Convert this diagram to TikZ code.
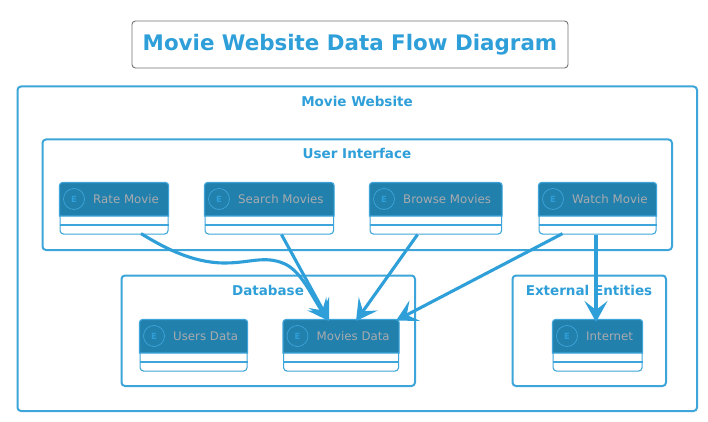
\documentclass[tikz,border=0pt]{standalone}
\usepackage{fontspec}
\setmainfont{DejaVu Sans}
\usetikzlibrary{arrows.meta,calc}
\definecolor{accent}{HTML}{2E9FD8}
\definecolor{boxline}{HTML}{3DA5D9}
\definecolor{headfill}{HTML}{2280AD}
\definecolor{graytext}{HTML}{A8ABAD}
\tikzset{
  x=1pt,y=-1pt,
  container/.style={draw=boxline,line width=2pt,rounded corners=3.5pt,fill=white},
  grouplabel/.style={text=accent,font=\bfseries\fontsize{13.5}{15}\selectfont,inner sep=0pt,anchor=center},
  entbox/.style={draw=boxline,line width=1.1pt,rounded corners=3.5pt,fill=white,inner sep=0pt,anchor=north west,minimum height=51pt},
  enthead/.style={fill=headfill,draw=boxline,line width=1.1pt},
  entlabel/.style={text=graytext,font=\fontsize{11.8}{14}\selectfont,inner sep=0pt,anchor=west},
  entmark/.style={circle,draw=boxline,line width=0.7pt,minimum size=21pt,inner sep=0pt,text=accent,font=\rmfamily\bfseries\fontsize{8.5}{10}\selectfont},
  flow/.style={draw=accent,line width=3.1pt,-{Stealth[length=21pt,width=23pt,inset=9pt]}},
}
% #1 name, #2 left, #3 width, #4 top, #5 label
\newcommand{\entitybox}[5]{%
  \node[entbox,minimum width=#3 pt] (#1) at (#2,#4) {};
  \draw[enthead] ($(#1.north west)+(0,33.5)$) -- ($(#1.north west)+(0,3)$)
    arc[start angle=180,end angle=90,x radius=3,y radius=-3] -- ($(#1.north east)+(-3,0)$)
    arc[start angle=90,end angle=0,x radius=3,y radius=-3] -- ($(#1.north east)+(0,33.5)$) -- cycle;
  \draw[draw=boxline,line width=1.1pt] ($(#1.north west)+(0,42.5)$) -- ($(#1.north east)+(0,42.5)$);
  \node[entmark] (#1-e) at ($(#1.north west)+(14.5,16.5)$) {E};
  \node[entlabel] (#1-l) at ($(#1.north west)+(33.5,16.5)$) {#5};
}
\begin{document}
\begin{tikzpicture}
\useasboundingbox (0,0) rectangle (708,422);
\fill[white] (0,0) rectangle (708,422);

\node[draw=black!55,line width=0.9pt,rounded corners=3.5pt,fill=white,minimum width=436pt,minimum height=47pt,inner sep=0pt,text=accent,font=\bfseries\fontsize{21.4}{25}\selectfont] (title) at (350,44.5) {\raisebox{-1pt}{Movie Website Data Flow Diagram}};

\draw[container] (17.5,86.5) rectangle (697,411);
\node[grouplabel] (gmw) at (357,101) {Movie Website};
\draw[container] (42.5,139.5) rectangle (672,250);
\node[grouplabel] (gui) at (357,153) {User Interface};
\draw[container] (121.5,275.5) rectangle (415,386);
\node[grouplabel] (gdb) at (268,290) {Database};
\draw[container] (512.5,275.5) rectangle (666,386);
\node[grouplabel] (gex) at (589,290) {External Entities};

\entitybox{rate}{59.5}{108}{182.5}{Rate Movie}
\entitybox{search}{204.5}{128.5}{182.5}{Search Movies}
\entitybox{browse}{369.5}{131.5}{182.5}{Browse Movies}
\entitybox{watch}{538.5}{117}{182.5}{Watch Movie}
\entitybox{users}{139.5}{107}{319.5}{Users Data}
\entitybox{movies}{283}{115}{319.5}{Movies Data}
\entitybox{inet}{552.5}{89}{319.5}{Internet}

\coordinate (m1) at ($(movies.north west)+(46,1.5)$);
\coordinate (m2) at ($(movies.north west)+(73,1.5)$);
\coordinate (m3) at ($(movies.north east)+(-3,1)$);
\coordinate (i1) at ($(inet.north west)+(43.5,2.5)$);
\coordinate (r1) at (225,263);
\coordinate (r2) at (285,264);

\draw[flow] ($(rate.south west)+(81.5,-1)$) .. controls (160,245) and (190,263) .. (r1)
   .. controls (250,263) and (265,255) .. (r2)
   .. controls (302,272) and (312,297) .. (m1);
\draw[flow] ($(search.south west)+(77,0)$) -- (m1);
\draw[flow] ($(browse.south west)+(48,0)$) -- (m2);
\draw[flow] ($(watch.south west)+(24,-1)$) -- (m3);
\draw[flow] ($(watch.south west)+(57.5,0)$) -- (i1);
\end{tikzpicture}
\end{document}
